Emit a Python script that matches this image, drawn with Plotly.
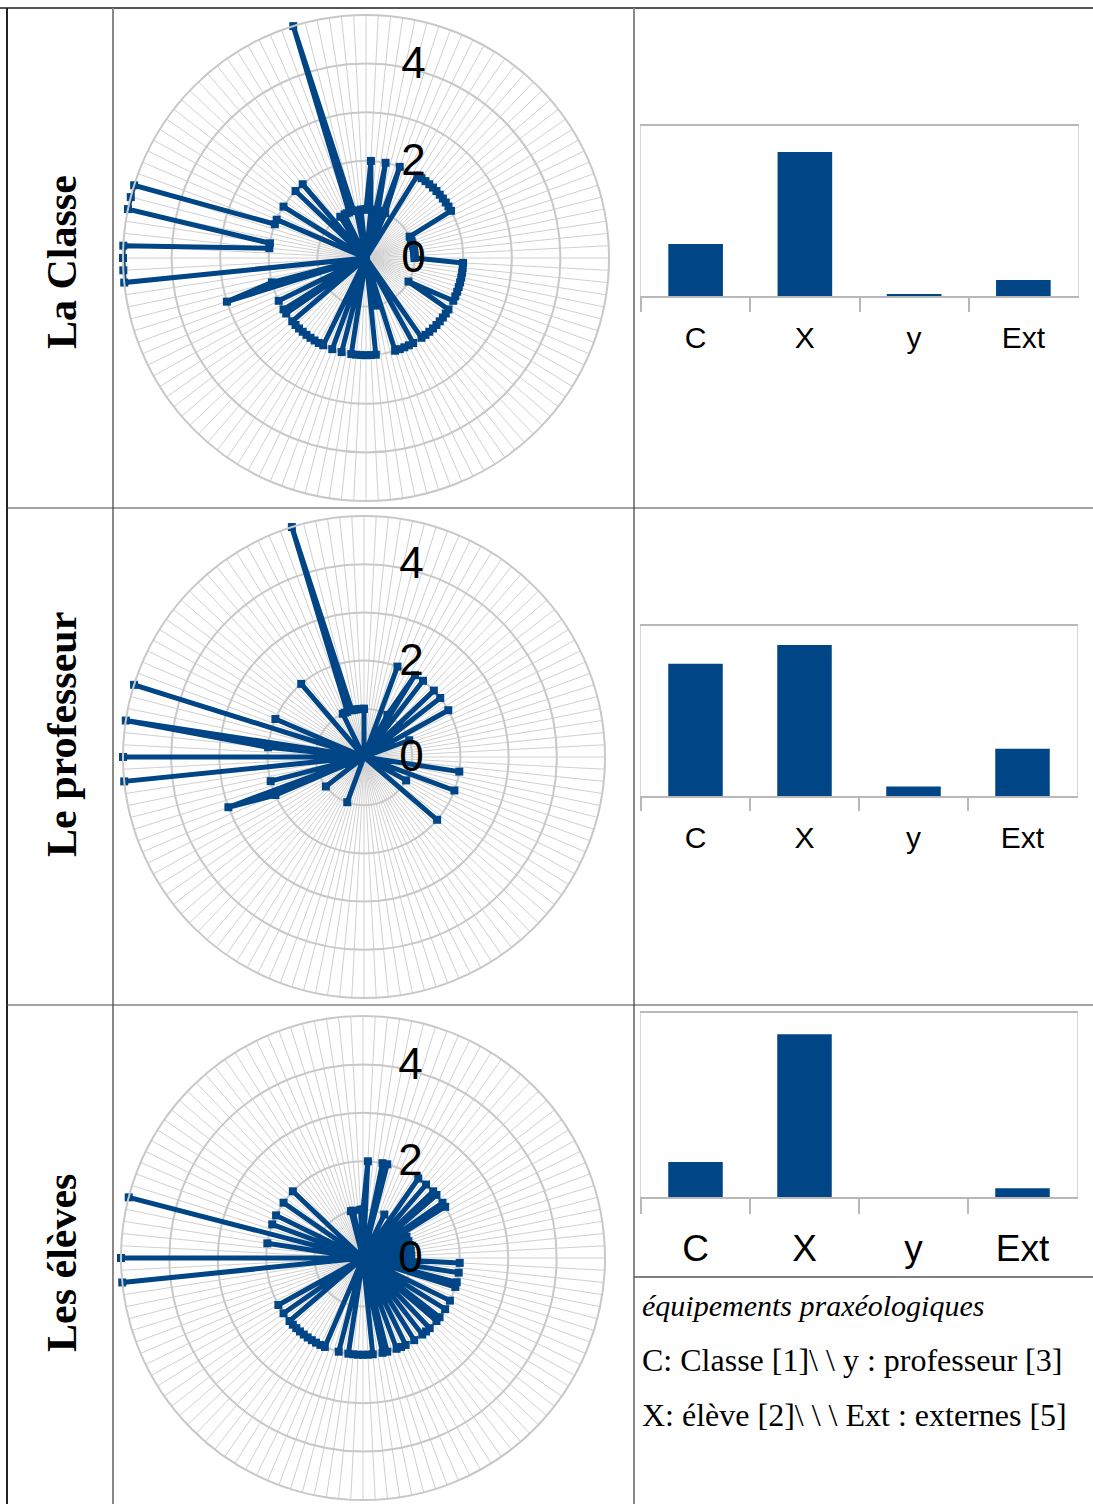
import plotly.graph_objects as go

W, H = 1093, 1504

# ---------------- data ----------------
N_CAT = 124
categories = [f"e{i+1}" for i in range(N_CAT)]

classe = [1,2,1,0,2,1,0,2,1,0,
          0,2,2,2,2,2,2,2,2,2,
          2,2,1,1,1,1,1,1,1,1,
          1,1,2,2,2,2,2,2,2,2,
          2,1,2,2,2,2,2,2,2,2,
          2,0,2,2,2,2,2,0,1,0,
          2,2,2,2,2,2,0,2,0,2,
          0,2,2,2,2,2,2,2,2,2,
          0,2,2,0,2,0,0,3,2,0,
          0,5,5,5,5,2,2,5,5,5,
          2,2,0,0,2,0,0,0,2,0,
          2,0,0,1,0,1,1,1,5,1,
          1,0,1,1]

professeur = [1,0,0,0,0,0,0,2,0,0,
              1,2,0,2,0,0,2,0,2,0,
              0,2,0,0,1,0,0,0,0,0,
              0,0,0,0,2,0,0,0,2,0,
              0,1,0,0,0,2,0,0,0,0,
              0,0,0,0,0,0,0,0,0,0,
              0,0,0,0,0,0,0,0,0,1,
              0,0,0,0,0,0,0,0,0,0,
              1,0,0,0,0,2,3,0,2,0,
              0,5,0,5,0,2,5,0,0,5,
              0,2,0,0,0,0,0,0,0,0,
              2,0,0,0,0,1,1,1,5,1,
              1,1,1,1]

eleves = [1,2,0,0,2,2,0,0,0,1,
          0,0,2,0,2,0,2,2,0,2,
          2,0,1,0,1,0,1,0,1,0,
          1,0,2,0,2,0,2,2,0,0,
          2,0,2,0,2,2,0,2,2,2,
          0,2,0,2,2,2,0,2,2,0,
          2,2,2,2,2,2,0,2,0,0,
          2,2,2,2,2,2,2,2,2,2,
          0,2,0,2,0,0,0,0,0,0,
          0,5,0,5,0,0,2,0,5,0,
          2,0,2,0,0,2,0,0,2,0,
          0,0,0,0,0,0,0,0,0,1,
          1,0,0,1]

radial_ticks = [0, 1, 2, 3, 4, 5]
radial_ticktext = ["0", "", "2", "", "4", ""]

bar_cats = ["C", "X", "y", "Ext"]
bar_classe = [26, 72, 1, 8]
bar_professeur = [14, 16, 1, 5]
bar_eleves = [12, 56, 0, 3]

row_labels = ["La Classe", "Le professeur", "Les élèves"]
legend_title = "équipements praxéologiques"
legend_lines = ["C: Classe [1]\\ \\ y : professeur [3]",
                "X: élève [2]\\ \\ \\ Ext : externes [5]"]

# ---------------- style ----------------
BLUE = "#004586"

def px_x(x):
    return x / W

def px_y(y):
    return 1 - y / H

fig = go.Figure()

radar_series = [classe, professeur, eleves]
# (cx, cy, R) in pixels
radar_geom = [(366, 258, 243), (364, 757, 241), (363, 1258, 242)]
polar_names = ["polar", "polar2", "polar3"]

for k, (vals, (cx, cy, R)) in enumerate(zip(radar_series, radar_geom)):
    th = categories + [categories[0]]
    rr = vals + [vals[0]]
    fig.add_trace(go.Scatterpolar(
        r=rr, theta=th, mode="lines+markers",
        line=dict(color=BLUE, width=5),
        marker=dict(symbol="square", size=8, color=BLUE),
        subplot=polar_names[k], showlegend=False, hoverinfo="skip"))
    fig.layout[polar_names[k]] = dict(
        domain=dict(x=[px_x(cx - R), px_x(cx + R)], y=[px_y(cy + R), px_y(cy - R)]),
        bgcolor="white",
        gridshape="circular",
        radialaxis=dict(range=[0, 5], tickvals=radial_ticks, ticktext=radial_ticktext,
                        angle=90, tickangle=90, showline=False,
                        gridcolor="#c8c8c8", gridwidth=2,
                        ticks="outside", ticklen=26, tickcolor="rgba(0,0,0,0)",
                        tickfont=dict(family="Liberation Sans, Arial", size=44, color="black")),
        angularaxis=dict(type="category", categoryarray=categories, direction="clockwise",
                         rotation=90, showticklabels=False, ticks="",
                         gridcolor="#d0d0d0", gridwidth=1,
                         showline=True, linecolor="#c8c8c8", linewidth=2),
    )

bar_series = [bar_classe, bar_professeur, bar_eleves]
# (x0, x1, ytop, ybase, ymax, fontsize, ticklen, standoff)
bar_geom = [(641, 1078, 126, 296, 85, 30, 14, 14),
            (641, 1077, 626, 796, 18, 30, 13, 14),
            (641, 1077, 1013, 1197, 63.3, 37, 15, 18)]

for k, (vals, (x0, x1, yt, yb, ymax, fs, tl, so)) in enumerate(zip(bar_series, bar_geom)):
    xa = "x" if k == 0 else f"x{k+1}"
    ya = "y" if k == 0 else f"y{k+1}"
    fig.add_trace(go.Bar(x=bar_cats, y=vals, marker=dict(color=BLUE, line=dict(width=0)),
                         width=0.5, xaxis=xa, yaxis=ya, showlegend=False, hoverinfo="skip"))
    xname = "xaxis" if k == 0 else f"xaxis{k+1}"
    yname = "yaxis" if k == 0 else f"yaxis{k+1}"
    fig.layout[xname] = dict(domain=[px_x(x0), px_x(x1)], anchor=ya,
                             showline=True, linecolor="#b8b8b8", linewidth=1.5, mirror=True,
                             ticks="outside", tickson="boundaries", ticklen=tl,
                             tickcolor="#b8b8b8", tickwidth=1.5, ticklabelstandoff=so,
                             tickfont=dict(family="Liberation Sans, Arial", size=fs, color="black"),
                             showgrid=False, fixedrange=True)
    fig.layout[yname] = dict(domain=[px_y(yb), px_y(yt)], anchor=xa, range=[0, ymax],
                             showline=True, linecolor="#d8d8d8", linewidth=1, mirror=True,
                             showticklabels=False, ticks="", showgrid=False, zeroline=False,
                             fixedrange=True)

# ---------------- table lines ----------------
line_specs = [
    (0, 8, W, 8, "#555555", 2),
    (7, 8, 7, H, "#222222", 2),
    (113, 8, 113, H, "#888888", 2),
    (634, 8, 634, H, "#888888", 2),
    (7, 508, W, 508, "#444444", 1),
    (7, 1005, W, 1005, "#444444", 1),
    (634, 1277, W, 1277, "#555555", 1.5),
]
for (x0, y0, x1, y1, c, w) in line_specs:
    fig.add_shape(type="line", xref="paper", yref="paper",
                  x0=px_x(x0), y0=px_y(y0), x1=px_x(x1), y1=px_y(y1),
                  line=dict(color=c, width=w))

# ---------------- texts ----------------
for lbl, yc in zip(row_labels, [262, 735, 1263]):
    fig.add_annotation(text=f"<b>{lbl}</b>", x=px_x(62), y=px_y(yc), xref="paper", yref="paper",
                       xanchor="center", yanchor="middle",
                       showarrow=False, textangle=-90,
                       font=dict(family="Liberation Serif, Times New Roman", size=42, color="black"))

fig.add_annotation(text=f"<i>{legend_title}</i>", x=px_x(640), y=px_y(1305), xref="paper", yref="paper",
                   xanchor="left", yanchor="middle", showarrow=False,
                   font=dict(family="Liberation Serif, Times New Roman", size=30, color="black"))
for txt, yc in zip(legend_lines, [1360, 1415]):
    fig.add_annotation(text=txt, x=px_x(640), y=px_y(yc), xref="paper", yref="paper",
                       xanchor="left", yanchor="middle", showarrow=False,
                       font=dict(family="Liberation Serif, Times New Roman", size=32, color="black"))

fig.update_layout(width=W, height=H, margin=dict(l=0, r=0, t=0, b=0),
                  paper_bgcolor="white", plot_bgcolor="white", showlegend=False)

fig.write_html("out.html", config={"displayModeBar": False},
               post_script="document.body.style.margin='0px';")
